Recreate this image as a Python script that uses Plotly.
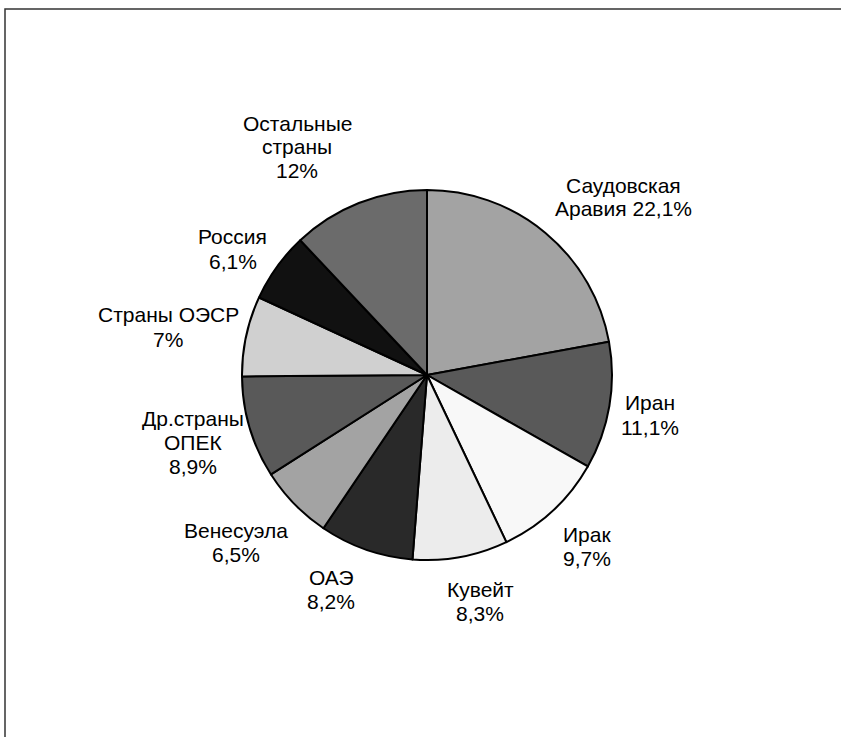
import plotly.graph_objects as go

W, H = 841, 737

countries = ["Саудовская Аравия", "Иран", "Ирак", "Кувейт", "ОАЭ",
             "Венесуэла", "Др.страны ОПЕК", "Страны ОЭСР", "Россия", "Остальные страны"]
shares = [22.1, 11.1, 9.7, 8.3, 8.2, 6.5, 8.9, 7.0, 6.1, 12.0]
colors = ["#a3a3a3", "#595959", "#f8f8f8", "#ececec", "#292929",
          "#a3a3a3", "#595959", "#d0d0d0", "#111111", "#6b6b6b"]
label_lines = [
    ["Саудовская", "Аравия 22,1%"],
    ["Иран", "11,1%"],
    ["Ирак", "9,7%"],
    ["Кувейт", "8,3%"],
    ["ОАЭ", "8,2%"],
    ["Венесуэла", "6,5%"],
    ["Др.страны", "ОПЕК", "8,9%"],
    ["Страны ОЭСР", "7%"],
    ["Россия", "6,1%"],
    ["Остальные", "страны", "12%"],
]
# label block anchor (pixel center x, first line center y)
label_pos = [(623, 185), (650, 403), (587, 534), (480, 589), (331, 577),
             (236, 530), (193, 418), (168, 315), (233, 237), (297, 123)]
LINE_H = 24

cx, cy, r = 427, 375, 185

fig = go.Figure(go.Pie(
    labels=countries, values=shares, sort=False, direction="clockwise", rotation=0,
    marker=dict(colors=colors, line=dict(color="black", width=2)),
    textinfo="none", hoverinfo="label+percent", showlegend=False,
    domain=dict(x=[(cx - r) / W, (cx + r) / W], y=[1 - (cy + r) / H, 1 - (cy - r) / H]),
))

annotations = []
for lines, (lx, ly) in zip(label_lines, label_pos):
    for i, t in enumerate(lines):
        annotations.append(dict(
            text=t, x=lx / W, y=1 - (ly + i * LINE_H) / H, xref="paper", yref="paper",
            xanchor="center", yanchor="middle", showarrow=False,
            font=dict(family="Liberation Sans, Arial", size=21, color="black"),
        ))

fig.update_layout(
    width=W, height=H, margin=dict(l=0, r=0, t=0, b=0),
    paper_bgcolor="white", plot_bgcolor="white",
    annotations=annotations,
    shapes=[dict(type="path", xref="paper", yref="paper",
                 path=f"M {5/W} -0.02 L {5/W} {1-9/H} L 1.02 {1-9/H}",
                 line=dict(color="#333333", width=1.5))],
)

fig.write_html("out.html", config={"displayModeBar": False},
               post_script="document.body.style.margin='0';document.body.style.overflow='hidden';")
